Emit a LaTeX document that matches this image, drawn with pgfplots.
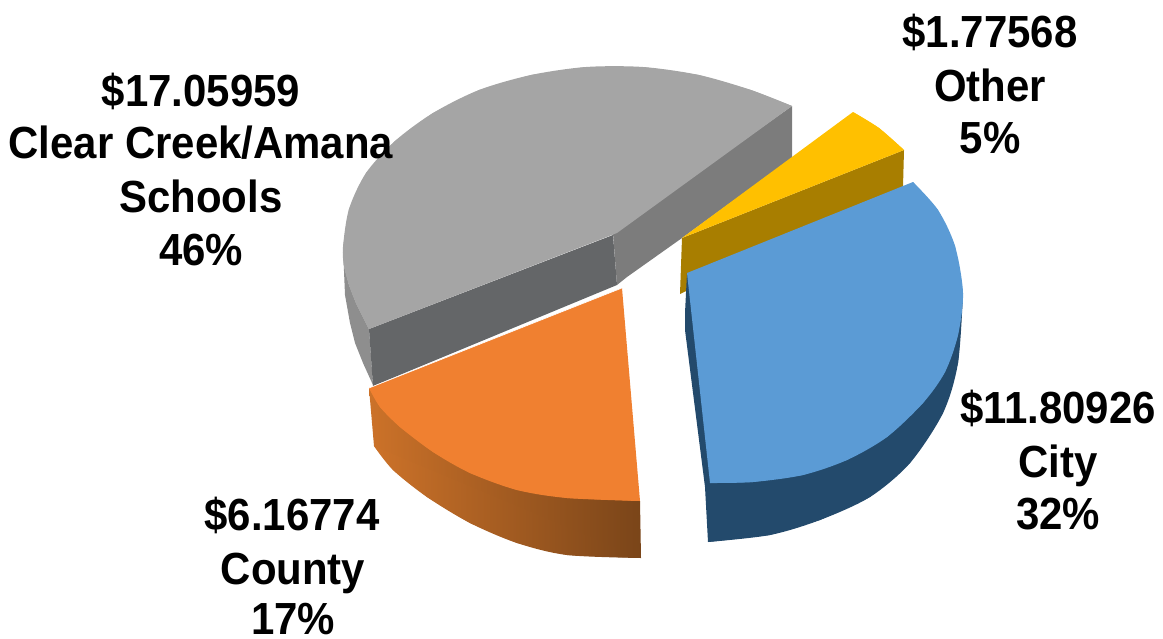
\documentclass[border=0pt]{standalone}
\usepackage{pgfplots}
\pgfplotsset{compat=1.18}
\usepackage{fontspec}
\setmainfont{Liberation Sans}
\definecolor{gtop}{HTML}{A5A5A5}
\definecolor{gfront}{HTML}{646668}
\definecolor{gright}{HTML}{7C7C7C}
\definecolor{gout}{HTML}{8E8E8E}
\definecolor{ytop}{HTML}{FFC000}
\definecolor{ywall}{HTML}{A87E00}
\definecolor{btop}{HTML}{5B9BD5}
\definecolor{bwall}{HTML}{234A6C}
\definecolor{otop}{HTML}{F08030}
\definecolor{owl}{HTML}{CC7229}
\definecolor{owr}{HTML}{7A4519}
\newcommand{\lab}[3]{\node[font=\fontsize{45}{45}\selectfont\bfseries,inner sep=0pt,anchor=base] at (axis cs:#1,#2) {\scalebox{0.932}[1]{#3}};}
\begin{document}
\begin{tikzpicture}
\useasboundingbox (0,0) rectangle (1163pt,638pt);
\begin{axis}[at={(0,0)},anchor=south west,scale only axis,width=1163pt,height=638pt,
  xmin=0,xmax=1163,ymin=0,ymax=638,y dir=reverse,hide axis,clip=false]
% gray: walls
\addplot[fill=gout,draw=none] coordinates {(343,247)(344,266)(349,285)(356,303)(369,329)(373,385)(363,363)(355,343)(350,323)(345,295)} -- cycle;
\addplot[fill=gright,draw=none] coordinates {(613,233)(792,106)(792,158)(682,238)(627,277)(617,285)} -- cycle;
\addplot[fill=gfront,draw=none] coordinates {(369,329)(613,235)(617,285)(373,386)} -- cycle;
% gray: top
\addplot[fill=gtop,draw=none] coordinates {(369,329)(356,303)(349,285)(344,266)(343,247)(349,209)(366,173)(395,141)(433,113)(479,90)(531,75)(586,67)(643,67)(699,75)(751,90)(792,106)(617,233)} -- cycle;
\addplot[fill=gtop,draw=none,smooth] coordinates {(369,329)(356,303)(349,285)(344,266)(343,247)(349,209)(366,173)(395,141)(433,113)(479,90)(531,75)(586,67)(643,67)(699,75)(751,90)(792,106)} -- cycle;
% yellow
\addplot[fill=ywall,draw=none] coordinates {(682,238)(904,150)(903,187)(680,294)} -- cycle;
\addplot[fill=ytop,draw=none] coordinates {(682,238)(853,112)(879,128)(904,150)} -- cycle;
\addplot[fill=ytop,draw=none,smooth] coordinates {(853,112)(879,128)(904,150)} -- cycle;
% blue: wall
\addplot[fill=bwall,draw=none] coordinates {(687,273)(685,313)(685,330)(705,487)(708,542)(770,535)(820,520)(870,497)(910,463)(943,413)(958,363)(963,293)} -- cycle;
\addplot[fill=bwall,draw=none,smooth] coordinates {(708,542)(770,535)(820,520)(870,497)(910,463)(943,413)(958,363)(963,293)} -- cycle;
% blue: top
\addplot[fill=btop,draw=none] coordinates {(687,273)(913,182)(938,210)(955,246)(963,293)(958,335)(945,372)(923,403)(887,437)(847,460)(803,475)(753,482)(710,483)} -- cycle;
\addplot[fill=btop,draw=none,smooth] coordinates {(913,182)(938,210)(955,246)(963,293)(958,335)(945,372)(923,403)(887,437)(847,460)(803,475)(753,482)(710,483)} -- cycle;
% orange: wall
\addplot[left color=owl,right color=owr,draw=none] coordinates {(369,388)(374,446)(393,470)(427,497)(470,523)(517,543)(567,555)(641,558)(640,501)(369,388)} -- cycle;
\addplot[left color=owl,right color=owr,draw=none,smooth] coordinates {(374,446)(393,470)(427,497)(470,523)(517,543)(567,555)(641,558)} -- cycle;
% orange: top
\addplot[fill=otop,draw=none] coordinates {(622,288)(640,501)(567,498)(517,490)(470,473)(433,452)(400,427)(380,407)(369,388)} -- cycle;
\addplot[fill=otop,draw=none,smooth] coordinates {(640,501)(567,498)(517,490)(470,473)(433,452)(400,427)(380,407)(369,388)} -- cycle;
\addplot[white,line width=0.6pt] coordinates {(369,388)(622,288)};
\lab{201}{106}{\$17.05959}
\lab{201}{158}{Clear Creek/Amana}
\lab{201}{212}{Schools}
\lab{201}{265}{46\%}
\lab{990}{47}{\$1.77568}
\lab{990}{101}{Other}
\lab{990}{153}{5\%}
\lab{1058}{423}{\$11.80926}
\lab{1058}{477}{City}
\lab{1058}{529}{32\%}
\lab{292}{530}{\$6.16774}
\lab{293}{584}{County}
\lab{293}{634}{17\%}
\end{axis}
\end{tikzpicture}
\end{document}
